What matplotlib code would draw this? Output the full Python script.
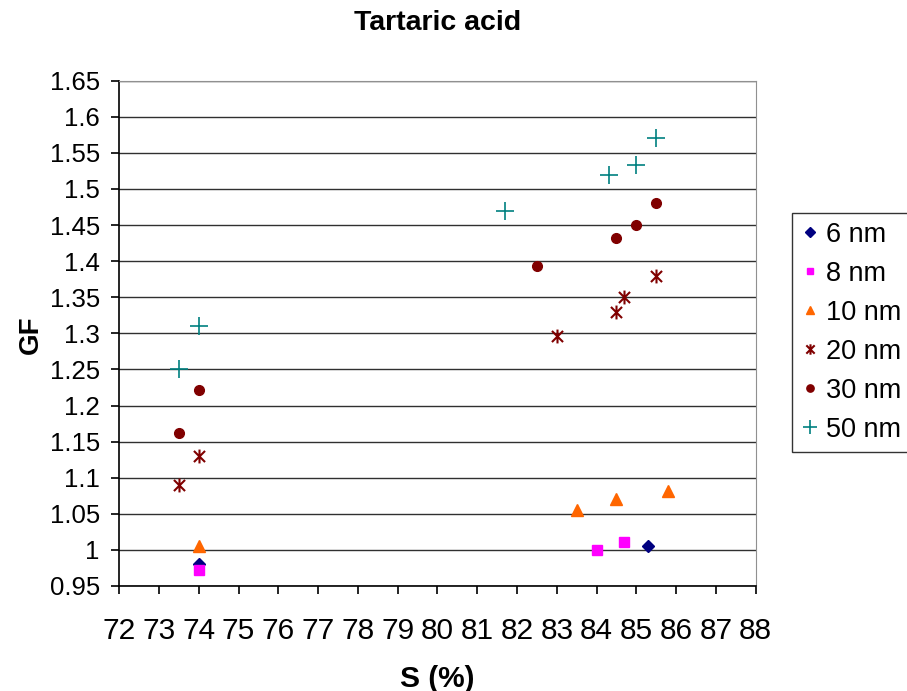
import matplotlib as mpl
mpl.use('Agg')
import matplotlib.pyplot as plt
from matplotlib.path import Path

plt.rcParams['font.family'] = ['Liberation Sans', 'DejaVu Sans']

# data
s_6nm = [74.0, 85.3]
gf_6nm = [0.981, 1.006]
s_8nm = [74.0, 84.0, 84.7]
gf_8nm = [0.972, 1.0, 1.011]
s_10nm = [74.0, 83.5, 84.5, 85.8]
gf_10nm = [1.006, 1.055, 1.071, 1.081]
s_20nm = [73.5, 74.0, 83.0, 84.5, 84.7, 85.5]
gf_20nm = [1.09, 1.13, 1.296, 1.33, 1.35, 1.38]
s_30nm = [73.5, 74.0, 82.5, 84.5, 85.0, 85.5]
gf_30nm = [1.162, 1.221, 1.393, 1.432, 1.45, 1.481]
s_50nm = [73.5, 74.0, 81.7, 84.3, 85.0, 85.5]
gf_50nm = [1.251, 1.31, 1.47, 1.519, 1.533, 1.57]

labels = ['6 nm', '8 nm', '10 nm', '20 nm', '30 nm', '50 nm']

# excel style asterisk: an X with a vertical bar
star = Path([(-1, -1), (1, 1), (-1, 1), (1, -1), (0, -1.25), (0, 1.25)],
            [Path.MOVETO, Path.LINETO, Path.MOVETO, Path.LINETO, Path.MOVETO, Path.LINETO])

fig = plt.figure(figsize=(9.07, 6.91), dpi=100)
ax = fig.add_axes([0.1315, 0.152, 0.7017, 0.7312])

ax.plot(s_6nm, gf_6nm, ls='none', marker='D', ms=6.5, color='#000080', label=labels[0])
ax.plot(s_8nm, gf_8nm, ls='none', marker='s', ms=6.5, color='#FF00FF', label=labels[1])
ax.plot(s_10nm, gf_10nm, ls='none', marker='^', ms=8.5, color='#FF6600', label=labels[2])
ax.plot(s_20nm, gf_20nm, ls='none', marker=star, ms=10, mew=1.5, color='#800000', label=labels[3])
ax.plot(s_30nm, gf_30nm, ls='none', marker='o', ms=7, color='#800000', label=labels[4])
ax.plot(s_50nm, gf_50nm, ls='none', marker='+', ms=12.5, mew=1.2, color='#008080', label=labels[5])

ax.set_xlim(72, 88)
ax.set_ylim(0.95, 1.65)
ax.set_xticks(range(72, 89))
yt = [0.95 + 0.05 * i for i in range(15)]
ax.set_yticks(yt)
ax.set_yticklabels(['%g' % round(v, 2) for v in yt])

ax.grid(axis='y', color='#303030', lw=1)
ax.set_axisbelow(True)
for side in ['top', 'right']:
    ax.spines[side].set_color('#909090')
for side in ['left', 'bottom']:
    ax.spines[side].set_color('black')
    ax.spines[side].set_linewidth(1.2)

ax.tick_params(axis='x', direction='out', length=6, width=1.2, pad=16, labelsize=21.5)
ax.tick_params(axis='y', direction='out', length=6, width=1.2, pad=8, labelsize=18.5)

fig.text(0.4824, 0.966, 'Tartaric acid', ha='center', va='center', fontsize=20.5, fontweight='bold')
fig.text(0.4824, 0.018, 'S (%)', ha='center', va='center', fontsize=21.5, fontweight='bold')
fig.text(0.034, 0.515, 'GF', ha='center', va='center', rotation=90, fontsize=20, fontweight='bold')

leg = fig.legend(loc='upper left', bbox_to_anchor=(0.873, 0.692), fontsize=19.5, frameon=True,
                 fancybox=False, edgecolor='black', markerscale=0.75, handlelength=0.7,
                 handletextpad=0.25, labelspacing=0.48, borderpad=0.33, borderaxespad=0)
leg.get_frame().set_linewidth(1.0)

fig.savefig('out.png', dpi=100)
